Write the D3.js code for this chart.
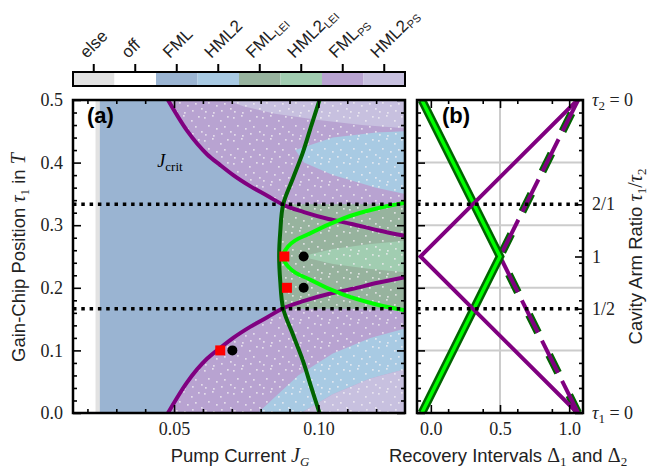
<!DOCTYPE html>
<html>
<head>
<script src="https://cdnjs.cloudflare.com/ajax/libs/d3/7.8.5/d3.min.js"></script>
<style>
  body { margin: 0; padding: 0; background: #fff; }
</style>
</head>
<body>
<div id="viz"></div>
<script>
// ---- values ----
var classes = ['else', 'off', 'FML', 'HML2', 'FML_LEI', 'HML2_LEI', 'FML_PS', 'HML2_PS'];
var classColors = ['#e2e2e2', '#ffffff', '#9ab4d2', '#a8cae3', '#97b39e', '#a1cdb1', '#b8a3d1', '#c7c0df'];

// J_crit (purple): pump current and distance of tau1 from T/4
var critJ   = [0.0479, 0.0545, 0.0615, 0.0660, 0.0705, 0.0765, 0.0823, 0.0875, 0.0950, 0.1035, 0.1115, 0.1205, 0.1300];
var critOff = [0.250, 0.201, 0.163, 0.146, 0.130, 0.112, 0.097, 0.0833, 0.071, 0.060, 0.052, 0.042, 0.033];

// dark green boundary: distance from T/4 and pump current
var hmlOff = [0, 0.040, 0.0833, 0.125, 0.166, 0.210, 0.250];
var hmlJ   = [0.0864, 0.0868, 0.0878, 0.0912, 0.0946, 0.0976, 0.1004];

// lime boundary
var leiJ   = [0.0872, 0.0895, 0.0972, 0.1087, 0.1205, 0.1300];
var leiOff = [0, 0.016, 0.037, 0.061, 0.077, 0.086];

var ratioTau = [1 / 3, 1 / 6];
var squareJ = [0.0882, 0.0891, 0.0660], squareTau = [0.25, 0.20, 0.10];
var dotJ    = [0.0949, 0.0949, 0.0702], dotTau    = [0.25, 0.20, 0.10];

// map patches, [J, tau]
var offEdgeJ = 0.0235, elseStrip = [0.0228, 0.0243];
var hml2PsTop = [[0.068, 0.5], [0.13, 0.5], [0.13, 0.455], [0.115, 0.46], [0.10, 0.468], [0.085, 0.478], [0.074, 0.49]];
var hml2Top   = [[0.092, 0.42], [0.105, 0.44], [0.12, 0.448], [0.13, 0.45], [0.13, 0.35], [0.12, 0.36], [0.105, 0.38], [0.095, 0.40]];
var hml2Bot   = [[0.079, 0.0], [0.094, 0.0], [0.105, 0.03], [0.118, 0.055], [0.13, 0.07], [0.13, 0.135], [0.118, 0.12], [0.105, 0.095], [0.093, 0.06]];
var hml2PsBot = [[0.094, 0.0], [0.13, 0.0], [0.13, 0.07], [0.118, 0.055], [0.105, 0.03]];
var hml2Lei   = [[0.094, 0.25], [0.105, 0.262], [0.118, 0.27], [0.13, 0.275], [0.13, 0.225], [0.118, 0.23], [0.105, 0.238]];

// panel (b): recovery intervals vs tau1
var bTau = [0, 0.25, 0.5];
var greenSolidD  = [-0.065, 0.5, -0.065];
var purpleSolidD = [1.06, -0.075, 1.06];
var dashedD      = [1.065, 0.5, 1.065];
var rightTicks  = [0, 1 / 6, 0.25, 1 / 3, 0.5];
var rightLabels = [['τ', '1', ' = 0'], ['1/2'], ['1'], ['2/1'], ['τ', '2', ' = 0']];

// ---- drawing ----
var serif = '"Liberation Serif", "DejaVu Serif", serif';
var sans = '"Liberation Sans", Arial, sans-serif';

var svg = d3.select('#viz').append('svg')
  .attr('width', 650).attr('height', 472);

var xA = d3.scaleLinear().domain([0.015, 0.13]).range([73, 405]);
var yT = d3.scaleLinear().domain([0, 0.5]).range([413, 100]);
var xB = d3.scaleLinear().domain([-0.1, 1.1]).range([417, 583]);
var cb = d3.scaleBand().domain(classes).range([73, 405]);
var col = d3.scaleOrdinal().domain(classes).range(classColors);

var defs = svg.append('defs');
defs.append('clipPath').attr('id', 'clipA').append('rect')
  .attr('x', xA.range()[0]).attr('y', yT.range()[1])
  .attr('width', xA.range()[1] - xA.range()[0]).attr('height', yT.range()[0] - yT.range()[1]);
defs.append('clipPath').attr('id', 'clipB').append('rect')
  .attr('x', xB.range()[0]).attr('y', yT.range()[1])
  .attr('width', xB.range()[1] - xB.range()[0]).attr('height', yT.range()[0] - yT.range()[1]);

// speckle texture of the simulated map
var pat = defs.append('pattern').attr('id', 'speck').attr('patternUnits', 'userSpaceOnUse')
  .attr('width', 29).attr('height', 23);
[[1, 2], [9, 0], [17, 5], [24, 1], [5, 10], [13, 13], [21, 11], [27, 16], [2, 19], [10, 20], [18, 18]].forEach(function (p) {
  pat.append('rect').attr('x', p[0]).attr('y', p[1]).attr('width', 1.7).attr('height', 1.7)
    .attr('fill', '#f2f0f4').attr('opacity', 0.75);
});

// ---------- panel (a) ----------
var gA = svg.append('g').attr('clip-path', 'url(#clipA)');
var poly = d3.line().x(function (d) { return xA(d[0]); }).y(function (d) { return yT(d[1]); });
var curveA = d3.line().x(function (d) { return xA(d[0]); }).y(function (d) { return yT(d[1]); }).curve(d3.curveMonotoneX);
var curveArc = d3.line().x(function (d) { return xA(d[0]); }).y(function (d) { return yT(d[1]); }).curve(d3.curveCatmullRom.alpha(0.5));

gA.append('rect').attr('x', xA(offEdgeJ)).attr('y', yT(0.5))
  .attr('width', xA(0.13) - xA(offEdgeJ)).attr('height', yT(0) - yT(0.5)).attr('fill', col('FML'));
gA.append('rect').attr('x', xA(0.015)).attr('y', yT(0.5))
  .attr('width', xA(offEdgeJ) - xA(0.015)).attr('height', yT(0) - yT(0.5)).attr('fill', col('off'));
gA.append('rect').attr('x', xA(elseStrip[0])).attr('y', yT(0.5))
  .attr('width', xA(elseStrip[1]) - xA(elseStrip[0])).attr('height', yT(0) - yT(0.5)).attr('fill', col('else'));

var critIdx = d3.range(critJ.length).filter(function (i) { return critOff[i] >= 0.0833; });
var critUpper = critJ.map(function (J, i) { return [J, 0.25 + critOff[i]]; });
var critLower = critJ.map(function (J, i) { return [J, 0.25 - critOff[i]]; });

function corners(list) {
  return list.map(function (p) { return 'L' + xA(p[0]) + ',' + yT(p[1]); }).join('') + 'Z';
}
var psTopD = curveA(critIdx.map(function (i) { return critUpper[i]; })) + corners([[0.13, ratioTau[0]], [0.13, 0.5]]);
var psBotD = curveA(critIdx.map(function (i) { return critLower[i]; })) + corners([[0.13, ratioTau[1]], [0.13, 0]]);

var hmlPts = [];
hmlOff.forEach(function (o, i) { hmlPts.push([hmlJ[i], 0.25 + o]); });
hmlPts.reverse();
hmlOff.forEach(function (o, i) { if (i > 0) hmlPts.push([hmlJ[i], 0.25 - o]); });
var leiEdge = hmlPts.filter(function (p) { return Math.abs(p[1] - 0.25) <= 0.0834; });
var leiD = curveArc(leiEdge) + corners([[0.13, ratioTau[1]], [0.13, ratioTau[0]]]);

[[psTopD, 'FML_PS'], [psBotD, 'FML_PS'], [leiD, 'FML_LEI'],
 [poly(hml2PsTop) + 'Z', 'HML2_PS'], [poly(hml2Top) + 'Z', 'HML2'], [poly(hml2Bot) + 'Z', 'HML2'],
 [poly(hml2PsBot) + 'Z', 'HML2_PS'], [poly(hml2Lei) + 'Z', 'HML2_LEI']]
  .forEach(function (r) {
    gA.append('path').attr('d', r[0]).attr('fill', col(r[1]));
  });
[psTopD, psBotD, leiD].forEach(function (d) {
  gA.append('path').attr('d', d).attr('fill', 'url(#speck)');
});

// boundary curves
gA.append('path').attr('d', curveA(critUpper)).attr('fill', 'none').attr('stroke', '#800080').attr('stroke-width', 4);
gA.append('path').attr('d', curveA(critLower)).attr('fill', 'none').attr('stroke', '#800080').attr('stroke-width', 4);
gA.append('path').attr('d', curveArc(hmlPts)).attr('fill', 'none').attr('stroke', '#006400').attr('stroke-width', 4);
var leiUpper = leiJ.map(function (J, i) { return [J, 0.25 + leiOff[i]]; });
var leiLower = leiJ.map(function (J, i) { return [J, 0.25 - leiOff[i]]; });
[leiUpper, leiLower].forEach(function (l) {
  gA.append('path').attr('d', curveA(l)).attr('fill', 'none').attr('stroke', '#00ff00').attr('stroke-width', 4);
});

// ratio lines
ratioTau.forEach(function (t) {
  svg.append('line').attr('x1', xA.range()[0]).attr('x2', xA.range()[1]).attr('y1', yT(t)).attr('y2', yT(t))
    .attr('stroke', '#000').attr('stroke-width', 3.5).attr('stroke-dasharray', '3.5,4.8');
});

// markers
gA.selectAll('rect.sq').data(squareJ).enter().append('rect').attr('class', 'sq')
  .attr('x', function (d) { return xA(d) - 5; })
  .attr('y', function (d, i) { return yT(squareTau[i]) - 5; })
  .attr('width', 10).attr('height', 10).attr('fill', '#ff0000');
gA.selectAll('circle.dot').data(dotJ).enter().append('circle').attr('class', 'dot')
  .attr('cx', function (d) { return xA(d); })
  .attr('cy', function (d, i) { return yT(dotTau[i]); })
  .attr('r', 5).attr('fill', '#000');

gA.append('text').attr('x', xA(0.0442)).attr('y', yT(0.4) + 4)
  .style('font-family', serif).style('font-size', '18px')
  .html('<tspan font-style="italic">J</tspan><tspan dy="4" font-size="13px">crit</tspan>');

// ---------- panel (b) ----------
var gB = svg.append('g').attr('clip-path', 'url(#clipB)');
[0.1, 0.2, 0.3, 0.4].forEach(function (t) {
  gB.append('line').attr('x1', xB.range()[0]).attr('x2', xB.range()[1]).attr('y1', yT(t)).attr('y2', yT(t))
    .attr('stroke', '#cccccc').attr('stroke-width', 2);
});
gB.append('line').attr('x1', xB(0.5)).attr('x2', xB(0.5)).attr('y1', yT(0)).attr('y2', yT(0.5))
  .attr('stroke', '#cccccc').attr('stroke-width', 2);

var lineB = d3.line().x(function (d) { return xB(d[0]); }).y(function (d) { return yT(d[1]); });
function pairs(ds) { return ds.map(function (d, i) { return [d, bTau[i]]; }); }

gB.append('path').attr('d', lineB(pairs(dashedD))).attr('fill', 'none')
  .attr('stroke', '#006400').attr('stroke-width', 8).attr('stroke-dasharray', '20,25');
gB.append('path').attr('d', lineB(pairs(dashedD))).attr('fill', 'none')
  .attr('stroke', '#800080').attr('stroke-width', 4).attr('stroke-dasharray', '36,9');
gB.append('path').attr('d', lineB(pairs(greenSolidD))).attr('fill', 'none')
  .attr('stroke', '#006400').attr('stroke-width', 8.5);
gB.append('path').attr('d', lineB(pairs(greenSolidD))).attr('fill', 'none')
  .attr('stroke', '#00ff00').attr('stroke-width', 3.5);
gB.append('path').attr('d', lineB(pairs(purpleSolidD))).attr('fill', 'none')
  .attr('stroke', '#800080').attr('stroke-width', 4);

ratioTau.forEach(function (t) {
  svg.append('line').attr('x1', xB.range()[0]).attr('x2', xB.range()[1]).attr('y1', yT(t)).attr('y2', yT(t))
    .attr('stroke', '#000').attr('stroke-width', 3.5).attr('stroke-dasharray', '3.5,4.8');
});

// ---------- axes ----------
function styleAxis(g) {
  g.select('.domain').remove();
  g.selectAll('line').attr('stroke', '#000').attr('stroke-width', 1.6);
  g.selectAll('text').style('font-family', serif).style('font-size', '18px').attr('fill', '#222');
}
function axisAt(axis, tx, ty) {
  var g = svg.append('g').attr('transform', 'translate(' + tx + ',' + ty + ')').call(axis);
  styleAxis(g);
  return g;
}

var aMajX = [0.05, 0.10], aMinX = d3.range(2, 13).map(function (v) { return v / 100; }).filter(function (v) { return Math.abs(v - 0.05) > 1e-6 && Math.abs(v - 0.1) > 1e-6; });
var aMajY = [0, 0.1, 0.2, 0.3, 0.4, 0.5], aMinY = d3.range(1, 25).map(function (v) { return v / 50; }).filter(function (v) { return Math.abs(v * 10 - Math.round(v * 10)) > 1e-6; });

axisAt(d3.axisBottom(xA).tickValues(aMajX).tickSize(-8).tickPadding(9).tickFormat(d3.format('.2f')), 0, yT(0));
axisAt(d3.axisBottom(xA).tickValues(aMinX).tickSize(-4).tickFormat(''), 0, yT(0));
axisAt(d3.axisTop(xA).tickValues(aMajX).tickSize(-8).tickFormat(''), 0, yT(0.5));
axisAt(d3.axisTop(xA).tickValues(aMinX).tickSize(-4).tickFormat(''), 0, yT(0.5));
axisAt(d3.axisLeft(yT).tickValues(aMajY).tickSize(-8).tickPadding(10).tickFormat(d3.format('.1f')), xA.range()[0], 0);
axisAt(d3.axisLeft(yT).tickValues(aMinY).tickSize(-4).tickFormat(''), xA.range()[0], 0);
axisAt(d3.axisRight(yT).tickValues(aMajY).tickSize(-8).tickFormat(''), xA.range()[1], 0);
axisAt(d3.axisRight(yT).tickValues(aMinY).tickSize(-4).tickFormat(''), xA.range()[1], 0);

var bMajX = [0, 0.5, 1], bMinX = [0.125, 0.375, 0.625, 0.875];
axisAt(d3.axisBottom(xB).tickValues(bMajX).tickSize(-8).tickPadding(9).tickFormat(d3.format('.1f')), 0, yT(0));
axisAt(d3.axisBottom(xB).tickValues(bMinX).tickSize(-4).tickFormat(''), 0, yT(0));
axisAt(d3.axisTop(xB).tickValues(bMajX).tickSize(-8).tickFormat(''), 0, yT(0.5));
axisAt(d3.axisTop(xB).tickValues(bMinX).tickSize(-4).tickFormat(''), 0, yT(0.5));
axisAt(d3.axisLeft(yT).tickValues(aMajY).tickSize(-8).tickFormat(''), xB.range()[0], 0);
axisAt(d3.axisLeft(yT).tickValues(aMinY).tickSize(-4).tickFormat(''), xB.range()[0], 0);
axisAt(d3.axisRight(yT).tickValues(aMinY).tickSize(-4).tickFormat(''), xB.range()[1], 0);
axisAt(d3.axisRight(yT).tickValues(rightTicks).tickSize(-8).tickFormat(''), xB.range()[1], 0);

// right tick labels of panel (b)
svg.selectAll('text.rt').data(rightTicks).enter().append('text').attr('class', 'rt')
  .attr('x', xB.range()[1] + 9).attr('y', function (d) { return yT(d) + 6; })
  .style('font-family', serif).style('font-size', '18px').attr('fill', '#222')
  .html(function (d, i) {
    var l = rightLabels[i];
    if (l.length === 1) return l[0];
    return '<tspan font-style="italic">' + l[0] + '</tspan><tspan dy="4" font-size="13px">' + l[1] +
      '</tspan><tspan dy="-4">' + l[2] + '</tspan>';
  });

// frames
[xA, xB].forEach(function (x) {
  svg.append('rect').attr('x', x.range()[0]).attr('y', yT(0.5))
    .attr('width', x.range()[1] - x.range()[0]).attr('height', yT(0) - yT(0.5))
    .attr('fill', 'none').attr('stroke', '#000').attr('stroke-width', 2.5);
});

// panel tags
svg.append('text').attr('x', xA.range()[0] + 14).attr('y', yT(0.5) + 23)
  .style('font-family', sans).style('font-weight', 'bold').style('font-size', '22px').text('(a)');
svg.append('text').attr('x', xB.range()[0] + 25).attr('y', yT(0.5) + 23)
  .style('font-family', sans).style('font-weight', 'bold').style('font-size', '22px').text('(b)');

// axis titles
var mathT = function (s, it) {
  return '<tspan font-family=\'' + serif + '\'' + (it ? ' font-style="italic"' : '') + ' font-size="20px">' + s + '</tspan>';
};
var sub = function (s, it) {
  return '<tspan dy="4" font-size="13px" font-family=\'' + serif + '\'' + (it ? ' font-style="italic"' : '') + '>' + s + '</tspan>';
};
svg.append('text').attr('transform', 'translate(25,' + (yT(0.25) + 1) + ') rotate(-90)')
  .attr('text-anchor', 'middle').style('font-family', sans).style('font-size', '18.5px').attr('fill', '#222')
  .html('Gain-Chip Position ' + mathT('τ', true) + sub('1') + '<tspan dy="-4"> in </tspan>' + mathT('T', true));
svg.append('text').attr('x', 240).attr('y', 462)
  .attr('text-anchor', 'middle').style('font-family', sans).style('font-size', '18.5px').attr('fill', '#222')
  .html('Pump Current ' + mathT('J', true) + sub('G', true));
svg.append('text').attr('x', 508).attr('y', 462)
  .attr('text-anchor', 'middle').style('font-family', sans).style('font-size', '18.5px').attr('fill', '#222')
  .html('Recovery Intervals ' + mathT('Δ') + sub('1') + '<tspan dy="-4"> and </tspan>' + mathT('Δ') + sub('2'));
svg.append('text').attr('transform', 'translate(642,' + yT(0.25) + ') rotate(-90)')
  .attr('text-anchor', 'middle').style('font-family', sans).style('font-size', '18.5px').attr('fill', '#222')
  .html('Cavity Arm Ratio ' + mathT('τ', true) + sub('1') + '<tspan dy="-4" font-family=\'' + serif + '\' font-size="20px">/</tspan>' + mathT('τ', true) + sub('2'));

// ---------- colour bar ----------
var cbY = 72, cbH = 14;
svg.selectAll('rect.cb').data(classes).enter().append('rect').attr('class', 'cb')
  .attr('x', function (d) { return cb(d); }).attr('y', cbY)
  .attr('width', cb.bandwidth()).attr('height', cbH).attr('fill', function (d) { return col(d); });
svg.append('rect').attr('x', cb.range()[0]).attr('y', cbY).attr('width', cb.range()[1] - cb.range()[0])
  .attr('height', cbH).attr('fill', 'none').attr('stroke', '#000').attr('stroke-width', 2);
svg.selectAll('line.cbt').data(classes).enter().append('line').attr('class', 'cbt')
  .attr('x1', function (d) { return cb(d) + cb.bandwidth() / 2; })
  .attr('x2', function (d) { return cb(d) + cb.bandwidth() / 2; })
  .attr('y1', cbY).attr('y2', cbY - 8).attr('stroke', '#000').attr('stroke-width', 2);
svg.selectAll('text.cbl').data(classes).enter().append('text').attr('class', 'cbl')
  .attr('transform', function (d) { return 'translate(' + (cb(d) + cb.bandwidth() / 2 - 7) + ',' + (cbY - 13) + ') rotate(-45)'; })
  .style('font-family', sans).style('font-size', '17px').attr('fill', '#222')
  .html(function (d) {
    var p = d.split('_');
    return p.length === 1 ? p[0] : p[0] + '<tspan dy="3" font-size="11px">' + p[1] + '</tspan>';
  });
</script>
</body>
</html>
